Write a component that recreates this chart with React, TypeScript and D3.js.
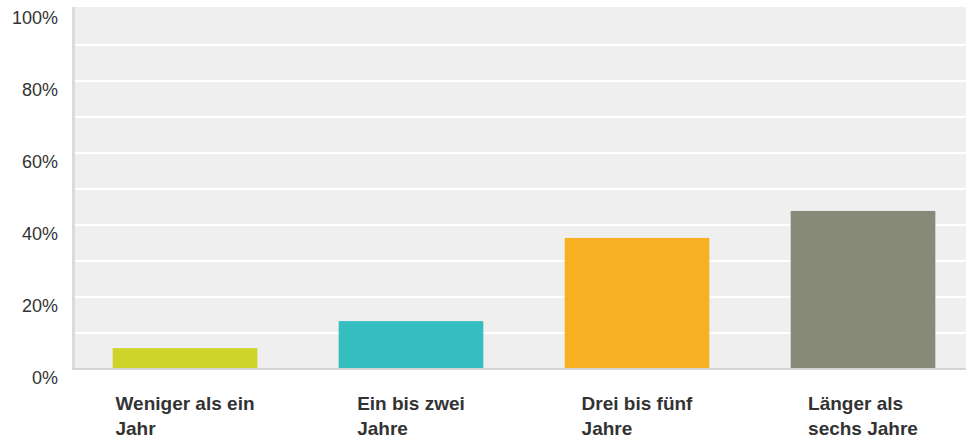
import React from "react";
import * as d3 from "d3";

const categories: string[][] = [
  ["Weniger als ein", "Jahr"],
  ["Ein bis zwei", "Jahre"],
  ["Drei bis fünf", "Jahre"],
  ["Länger als", "sechs Jahre"],
];
const values: number[] = [5.8, 13.3, 36.4, 43.9];
const colors: string[] = ["#cfd42a", "#34bebf", "#f7b021", "#888a79"];
const yTicks: number[] = [0, 20, 40, 60, 80, 100];
const gridTicks: number[] = [10, 20, 30, 40, 50, 60, 70, 80, 90];

const W = 966;
const H = 441;
const FONT = "'Liberation Sans', Arial, sans-serif";

function measure(text: string, size: number, weight: string): number {
  const c = document.createElement("canvas").getContext("2d");
  if (!c) return text.length * size * 0.55;
  c.font = `${weight} ${size}px ${FONT}`;
  return c.measureText(text).width;
}

export default function App() {
  const left = 72;
  const plotTop = 7;
  const bottom = 369;
  const x = d3
    .scaleBand<number>()
    .domain(categories.map((_, i) => i))
    .range([left, left + 904])
    .paddingInner(0.36)
    .paddingOuter(0.18);
  const y = d3.scaleLinear().domain([0, 100]).range([bottom, 9]);

  return (
    <svg
      width={W}
      height={H}
      style={{ position: "absolute", left: 0, top: 0, display: "block" }}
      fontFamily={FONT}
    >
      <rect x={left} y={plotTop} width={W - left} height={bottom - plotTop} fill="#efefef" />
      {gridTicks.map((t) => (
        <line key={t} x1={left} x2={W} y1={y(t)} y2={y(t)} stroke="#ffffff" strokeWidth={2} />
      ))}
      <line x1={left + 1.5} x2={left + 1.5} y1={plotTop} y2={bottom} stroke="#dcdcdc" strokeWidth={3} />
      {values.map((v, i) => (
        <rect
          key={i}
          x={x(i)}
          y={y(v)}
          width={x.bandwidth()}
          height={bottom - y(v)}
          fill={colors[i]}
        />
      ))}
      <line x1={left} x2={W} y1={bottom} y2={bottom} stroke="#d4d4d4" strokeWidth={2} />
      {yTicks.map((t) => (
        <text
          key={t}
          x={58}
          y={y(t) + 15}
          textAnchor="end"
          fontSize={18}
          fill="#333333"
        >
          {t}%
        </text>
      ))}
      {categories.map((lines, i) => {
        const cx = (x(i) as number) + x.bandwidth() / 2;
        const maxW = Math.max(...lines.map((l) => measure(l, 19, "bold")));
        const lx = cx - maxW / 2;
        return (
          <text key={i} fontSize={19} fontWeight="bold" fill="#333333">
            {lines.map((l, j) => (
              <tspan key={j} x={lx} y={410 + j * 25}>
                {l}
              </tspan>
            ))}
          </text>
        );
      })}
    </svg>
  );
}
